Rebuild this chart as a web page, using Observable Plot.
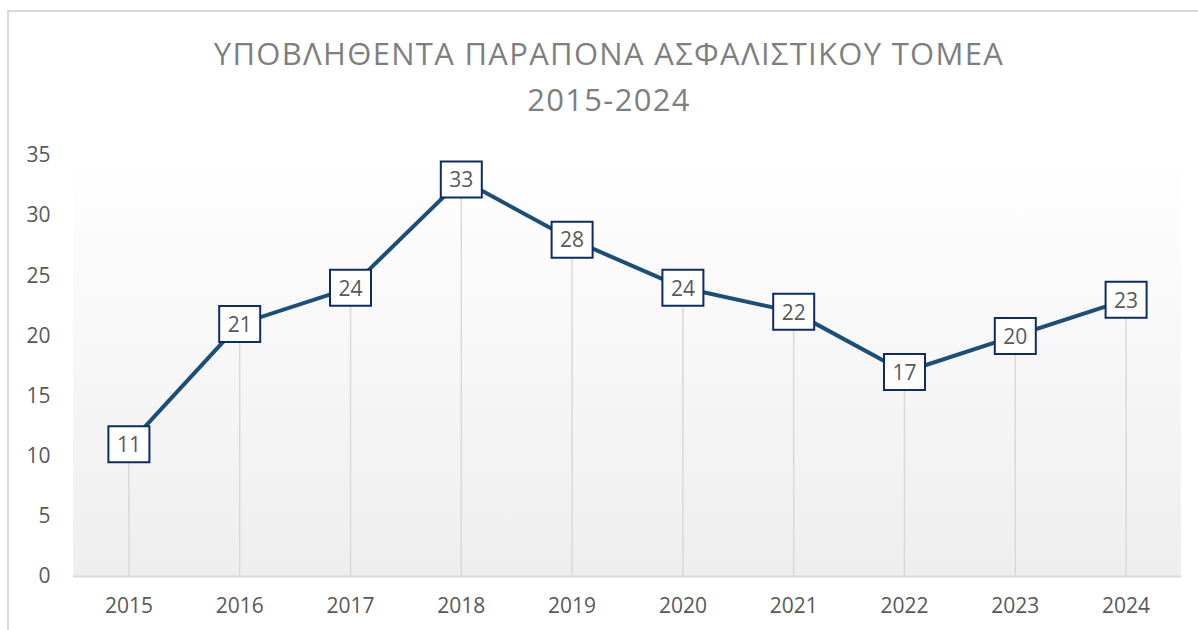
<!DOCTYPE html>
<html>
<head>
<meta charset="utf-8">
<script src="https://cdn.jsdelivr.net/npm/d3@7"></script>
<script src="https://cdn.jsdelivr.net/npm/@observablehq/plot@0.6"></script>
<style>
  html, body { margin: 0; padding: 0; background: #fff; }
  #wrap { position: relative; width: 1198px; height: 630px; overflow: hidden; }
  #frame { position: absolute; left: 7px; top: 10px; width: 1200px; height: 640px;
           border-top: 2px solid #d9d9d9; border-left: 2px solid #d9d9d9; box-sizing: border-box; }
  #title { position: absolute; left: 0; width: 1218px; top: 30px; text-align: center;
           font-family: "Open Sans", sans-serif; font-weight: 400; font-size: 31px; letter-spacing: 1.3px;
           line-height: 46px; color: #7f7f7f; }
  #chart { position: absolute; left: 0; top: 0; }
</style>
</head>
<body>
<div id="wrap">
  <div id="frame"></div>
  <div id="chart"></div>
  <div id="title">ΥΠΟΒΛΗΘΕΝΤΑ ΠΑΡΑΠΟΝΑ ΑΣΦΑΛΙΣΤΙΚΟΥ ΤΟΜΕΑ<br>2015-2024</div>
</div>
<script>
const years = ["2015","2016","2017","2018","2019","2020","2021","2022","2023","2024"];
const complaints = [11, 21, 24, 33, 28, 24, 22, 17, 20, 23];
const yTicks = [0, 5, 10, 15, 20, 25, 30, 35];

const data = years.map((y, i) => ({year: y, value: complaints[i]}));

const boxSymbol = {
  draw(ctx, size) {
    const w = 20.5, h = 18;
    ctx.moveTo(-w, -h); ctx.lineTo(w, -h); ctx.lineTo(w, h); ctx.lineTo(-w, h); ctx.closePath();
  }
};

const gradientBg = (index, scales, values, dims) => {
  const g = d3.create("svg:g");
  const defs = g.append("defs");
  const lg = defs.append("linearGradient").attr("id", "bgGrad")
    .attr("x1", 0).attr("y1", 0).attr("x2", 0).attr("y2", 1);
  lg.append("stop").attr("offset", "0%").attr("stop-color", "#ffffff");
  lg.append("stop").attr("offset", "100%").attr("stop-color", "#eeeeee");
  g.append("rect")
    .attr("x", dims.marginLeft).attr("y", dims.marginTop)
    .attr("width", dims.width - dims.marginLeft - dims.marginRight)
    .attr("height", dims.height - dims.marginTop - dims.marginBottom)
    .attr("fill", "url(#bgGrad)");
  return g.node();
};

const chart = Plot.plot({
  width: 1198,
  height: 630,
  marginTop: 155,
  marginBottom: 54,
  marginLeft: 73,
  marginRight: 17,
  style: {fontFamily: "'Open Sans', sans-serif", fontSize: "21px", color: "#595959", background: "transparent"},
  x: {type: "band", domain: years, padding: 0, round: false, label: null},
  y: {domain: [0, 35], label: null},
  marks: [
    gradientBg,
    Plot.ruleX(data, {x: "year", y1: 0, y2: "value", stroke: "#d9d9d9", strokeWidth: 1.5}),
    Plot.ruleY([0], {stroke: "#d9d9d9", strokeWidth: 2}),
    Plot.axisY({ticks: yTicks, tickSize: 0, tickPadding: 23, fill: "#595959", fontSize: 21}),
    Plot.axisX({tickSize: 0, tickPadding: 22, fill: "#595959", fontSize: 21}),
    Plot.line(data, {x: "year", y: "value", stroke: "#1b4f78", strokeWidth: 4, strokeLinejoin: "round"}),
    Plot.dot(data, {x: "year", y: "value", symbol: boxSymbol, r: 10, fill: "white", stroke: "#0f2b68", strokeWidth: 2, fillOpacity: 1}),
    Plot.text(data, {x: "year", y: "value", text: d => String(d.value), fill: "#595959", fontSize: 21, dy: 1})
  ]
});
document.getElementById("chart").appendChild(chart);
</script>
</body>
</html>
